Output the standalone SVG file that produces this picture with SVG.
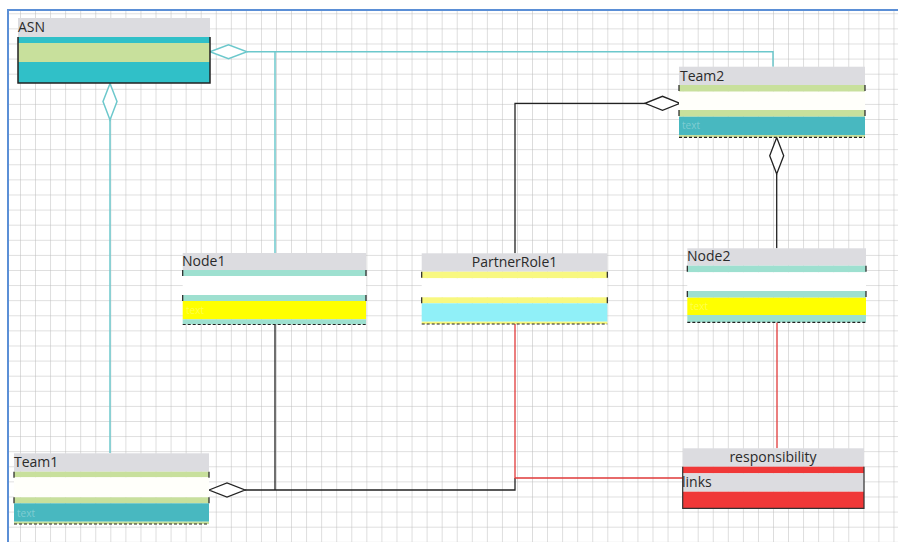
<svg xmlns="http://www.w3.org/2000/svg" width="898" height="542" viewBox="0 0 898 542">
<defs>
<pattern id="grid" x="4.94" y="13.3" width="15.06" height="15.1" patternUnits="userSpaceOnUse">
<path d="M0 0H15.06M0 0V15.1" fill="none" stroke="#bdbdbd" stroke-width="1"/>
</pattern>
<style>
.hdr{fill:#dcdce0}
.t{font-family:"Open Sans","Noto Sans",sans-serif;font-size:14px;fill:#2a2a2a}
.ft{font-family:"Open Sans","Noto Sans",sans-serif;font-size:10px;fill:#ffffff;fill-opacity:0.3}
.dash{stroke:#222;stroke-width:1.2;stroke-dasharray:3 2;fill:none}
.tick{stroke:#222;stroke-width:1.2}
.teal{stroke:#6cc8cc;stroke-width:1.5;fill:none}
.blk{stroke:#222;stroke-width:1.3;fill:none}
.red{stroke:#e03a3a;stroke-width:1.3;fill:none}
.dia{fill:#fff}
</style>
</defs>
<rect x="0" y="0" width="898" height="542" fill="#fff"/>
<rect x="8" y="10" width="890" height="532" fill="url(#grid)"/>
<path d="M8 542V10H898" fill="none" stroke="#5b8fd6" stroke-width="2"/>

<g id="connectors">
<path class="teal" d="M247 51.7H773V66.7"/>
<path class="teal" d="M275 51.7V253"/>
<path class="teal" d="M110 120V453"/>
<polygon class="dia" stroke="#6cc8cc" stroke-width="1.5" points="210,51.7 228.5,44.7 247,51.7 228.5,58.7"/>
<polygon class="dia" stroke="#6cc8cc" stroke-width="1.5" points="110,83.5 117,101.5 110,120 103,101.5"/>
<path class="blk" d="M645 103.3H515V253.3"/>
<polygon class="dia" stroke="#222" stroke-width="1.3" points="680,103.3 662.5,96.3 645,103.3 662.5,110.3"/>
<path class="blk" d="M776.7 174V248.3"/>
<polygon class="dia" stroke="#222" stroke-width="1.3" points="776.7,137.5 783.7,155.7 776.7,174 769.7,155.7"/>
<path class="blk" d="M245 490H515V478"/>
<path class="blk" d="M275 490V324.5"/>
<polygon class="dia" stroke="#222" stroke-width="1.3" points="209,490 227,483 245,490 227,497"/>
<path class="red" d="M515 324V478H683"/>
<path class="red" d="M777 322.5V448.3"/>
</g>

<g id="ASN">
<rect class="hdr" x="18" y="18" width="192" height="19"/>
<rect x="18" y="37" width="192" height="6" fill="#30c0c8"/>
<rect x="18" y="43" width="192" height="19" fill="#c8e09c"/>
<rect x="18" y="62" width="192" height="21" fill="#30c0c8"/>
<path d="M18 37V83H210V37" fill="none" stroke="#222" stroke-width="1.5"/>
<text class="t" x="18" y="32">ASN</text>
</g>

<g id="Team2">
<rect class="hdr" x="679" y="66.7" width="186" height="18.3"/>
<rect x="679" y="85" width="186" height="6.7" fill="#c8e09c"/>
<rect x="679" y="91.7" width="186" height="18.3" fill="#fffffa"/>
<rect x="679" y="110" width="186" height="6.7" fill="#c8e09c"/>
<rect x="679" y="116.7" width="186" height="18.3" fill="#48b8c0"/>
<rect x="679" y="135" width="186" height="2.3" fill="#c8e09c"/>
<line class="dash" x1="679" y1="137.3" x2="865" y2="137.3"/>
<path class="tick" d="M679 85v6M865 85v6M679 110v6M865 110v6"/>
<text class="t" x="680" y="81">Team2</text>
<text class="ft" x="682" y="129">text</text>
</g>

<g id="Node1">
<rect class="hdr" x="182.7" y="253" width="183.3" height="17"/>
<rect x="182.7" y="270" width="183.3" height="6" fill="#9ee0d0"/>
<rect x="182.7" y="276" width="183.3" height="19" fill="#fff"/>
<rect x="182.7" y="295" width="183.3" height="6" fill="#9ee0d0"/>
<rect x="182.7" y="301" width="183.3" height="18.3" fill="#ffff00"/>
<rect x="182.7" y="319.3" width="183.3" height="5" fill="#9ee0d0"/>
<line class="dash" x1="182.7" y1="324.5" x2="366" y2="324.5"/>
<path class="tick" d="M182.7 270v6M366 270v6M182.7 295v6M366 295v6"/>
<text class="t" x="182" y="266">Node1</text>
<text class="ft" x="186" y="314">text</text>
</g>

<g id="PartnerRole1">
<rect class="hdr" x="421.7" y="253.3" width="185.6" height="18.4"/>
<rect x="421.7" y="271.7" width="185.6" height="6.6" fill="#f8f880"/>
<rect x="421.7" y="278.3" width="185.6" height="19" fill="#fff"/>
<rect x="421.7" y="297.3" width="185.6" height="6" fill="#f8f880"/>
<rect x="421.7" y="303.3" width="185.6" height="18.4" fill="#90f0f8"/>
<rect x="421.7" y="321.7" width="185.6" height="2.3" fill="#f8f880"/>
<line class="dash" x1="421.7" y1="324" x2="607.3" y2="324"/>
<path class="tick" d="M421.7 271.7v6M607.3 271.7v6M421.7 297.3v6M607.3 297.3v6"/>
<text class="t" x="514.5" y="267" text-anchor="middle">PartnerRole1</text>
</g>

<g id="Node2">
<rect class="hdr" x="687.3" y="248.3" width="178.7" height="17.4"/>
<rect x="687.3" y="265.7" width="178.7" height="6.6" fill="#9ee0d0"/>
<rect x="687.3" y="272.3" width="178.7" height="18.7" fill="#fff"/>
<rect x="687.3" y="291" width="178.7" height="6.7" fill="#9ee0d0"/>
<rect x="687.3" y="297.7" width="178.7" height="17.3" fill="#ffff00"/>
<rect x="687.3" y="315" width="178.7" height="7.3" fill="#9ee0d0"/>
<line class="dash" x1="687.3" y1="322.3" x2="866" y2="322.3"/>
<path class="tick" d="M687.3 265.7v6M866 265.7v6M687.3 291v6M866 291v6"/>
<text class="t" x="687" y="261">Node2</text>
<text class="ft" x="690" y="310">text</text>
</g>

<g id="Team1">
<rect class="hdr" x="14" y="453.3" width="195" height="18.4"/>
<rect x="14" y="471.7" width="195" height="5.6" fill="#c8e09c"/>
<rect x="14" y="477.3" width="195" height="20" fill="#fffffa"/>
<rect x="14" y="497.3" width="195" height="6" fill="#c8e09c"/>
<rect x="14" y="503.3" width="195" height="18.4" fill="#48b8c0"/>
<rect x="14" y="521.7" width="195" height="2.3" fill="#c8e09c"/>
<line class="dash" x1="14" y1="524" x2="209" y2="524"/>
<path class="tick" d="M14 471.7v6M209 471.7v6M14 497.3v6M209 497.3v6"/>
<text class="t" x="14" y="467">Team1</text>
<text class="ft" x="17" y="517">text</text>
</g>

<g id="responsibility">
<rect class="hdr" x="682.7" y="448.3" width="181.3" height="18.4"/>
<rect x="682.7" y="466.7" width="181.3" height="6.6" fill="#f03838"/>
<rect x="682.7" y="473.3" width="181.3" height="18.4" fill="#dcdce0"/>
<rect x="682.7" y="491.7" width="181.3" height="16.6" fill="#f03838"/>
<path d="M682.7 466.7V508.3H864V466.7" fill="none" stroke="#333" stroke-width="1.2"/>
<text class="t" x="773" y="462" text-anchor="middle">responsibility</text>
<text class="t" x="682" y="487">links</text>
</g>
</svg>
